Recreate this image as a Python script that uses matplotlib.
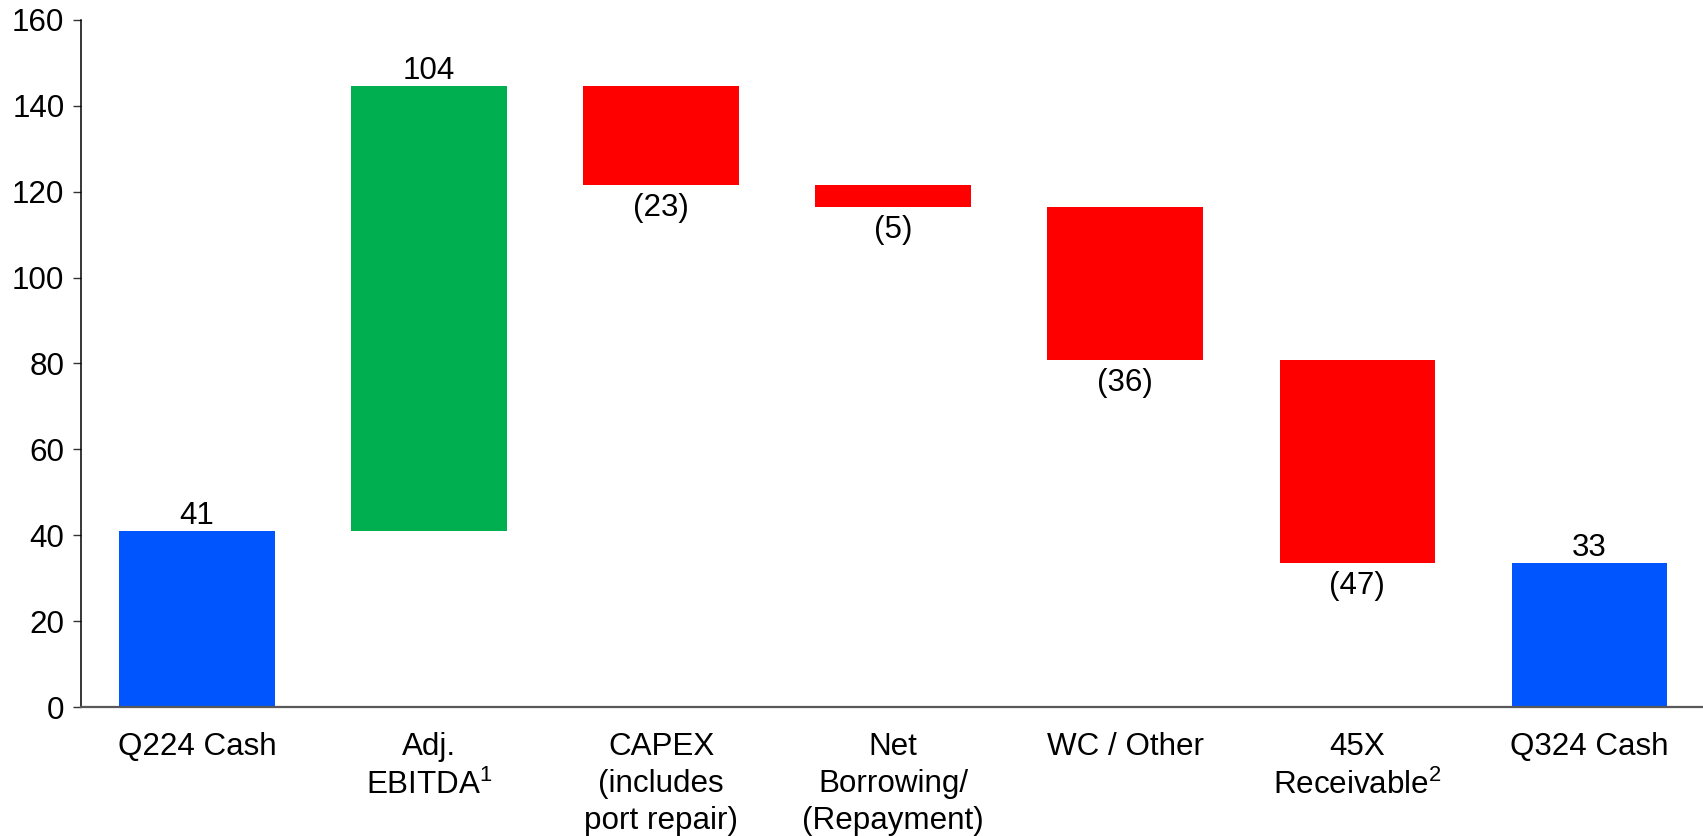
import matplotlib
matplotlib.use("Agg")
import matplotlib.pyplot as plt

plt.rcParams['font.family'] = ['Liberation Sans', 'DejaVu Sans']
plt.rcParams['mathtext.fontset'] = 'custom'
plt.rcParams['mathtext.rm'] = 'Liberation Sans'
plt.rcParams['mathtext.default'] = 'regular'

# data ($M)
categories = ["Q224 Cash", "Adj.\nEBITDA$^1$", "CAPEX\n(includes\nport repair)",
              "Net\nBorrowing/\n(Repayment)", "WC / Other", "45X\nReceivable$^2$",
              "Q324 Cash"]
start_cash = 41.0
changes = [103.6, -23.0, -5.1, -35.7, -47.2]
value_labels = ["41", "104", "(23)", "(5)", "(36)", "(47)", "33"]
yticks = [0, 20, 40, 60, 80, 100, 120, 140, 160]

BLUE = "#0055FF"
GREEN = "#00B050"
RED = "#FF0000"
FS = 22.6

# build waterfall bottoms / heights
bottoms = [0]
heights = [start_cash]
colors = [BLUE]
running = start_cash
for c in changes:
    if c >= 0:
        bottoms.append(running)
        heights.append(c)
        colors.append(GREEN)
    else:
        bottoms.append(running + c)
        heights.append(-c)
        colors.append(RED)
    running += c
bottoms.append(0)
heights.append(running)
colors.append(BLUE)

fig = plt.figure(figsize=(17.03, 8.36), dpi=100)
ax = fig.add_axes([0.0476, 0.1543, 0.9524, 0.8218])

x = list(range(len(categories)))
ax.bar(x, heights, bottom=bottoms, width=0.67, color=colors, zorder=2)

for i in x:
    top = bottoms[i] + heights[i]
    if i == 0 or i == len(x) - 1 or changes[i - 1] >= 0:
        ax.annotate(value_labels[i], (i, top), xytext=(0, 5), textcoords="offset points",
                    ha="center", va="baseline", fontsize=FS)
    else:
        ax.annotate(value_labels[i], (i, bottoms[i]), xytext=(0, -6), textcoords="offset points",
                    ha="center", va="top", fontsize=FS)

ax.set_xlim(-0.5, 6.49)
ax.set_ylim(0, 160)
ax.set_yticks(yticks)
ax.set_xticks(x)
ax.set_xticklabels(categories, fontsize=FS, linespacing=1.3)
ax.tick_params(axis="y", labelsize=FS, length=6, width=1, pad=6, color="#333333")
ax.tick_params(axis="x", length=0, pad=18)

ax.spines["top"].set_visible(False)
ax.spines["right"].set_visible(False)
ax.spines["left"].set_color("black")
ax.spines["left"].set_linewidth(1.1)
ax.spines["bottom"].set_color("#595959")
ax.spines["bottom"].set_linewidth(1.6)
ax.spines["bottom"].set_zorder(3)

fig.savefig("out.png", dpi=100)
